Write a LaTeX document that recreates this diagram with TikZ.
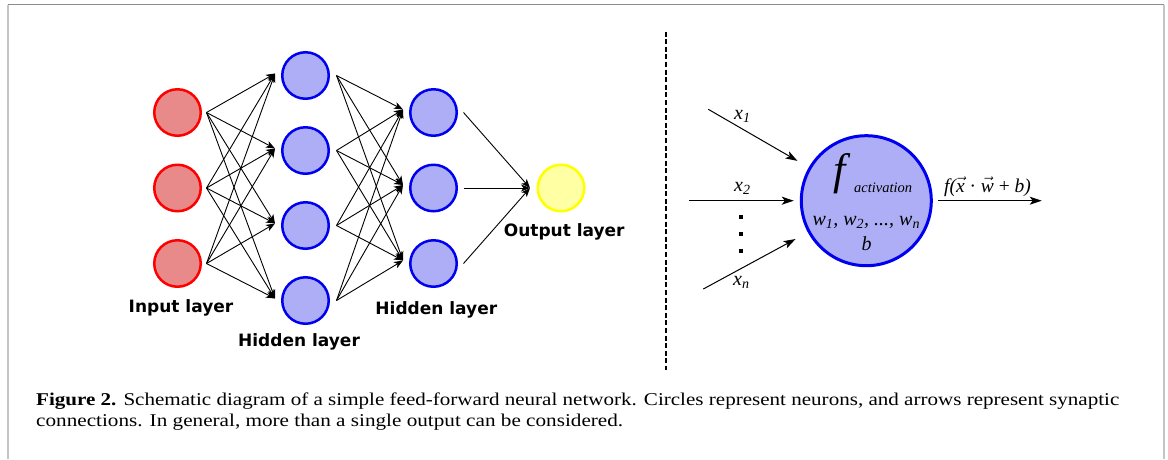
\documentclass[tikz,border=0pt]{standalone}
\usepackage{fontspec}
\usepackage{graphicx}
\usetikzlibrary{arrows.meta}
\setmainfont{Liberation Serif}
\newfontfamily\lblfont{DejaVu Sans}
\definecolor{infill}{RGB}{233,138,138}
\definecolor{indraw}{RGB}{255,0,0}
\definecolor{hidfill}{RGB}{174,174,246}
\definecolor{hiddraw}{RGB}{0,0,240}
\definecolor{outfill}{RGB}{255,255,163}
\definecolor{outdraw}{RGB}{255,255,0}
\definecolor{frametop}{RGB}{140,140,140}
\definecolor{frameside}{RGB}{196,196,196}
\tikzset{
  neuron/.style={circle, minimum size=46.5pt, inner sep=0pt, line width=2.5pt},
  inneuron/.style={neuron, draw=indraw, fill=infill},
  hidneuron/.style={neuron, draw=hiddraw, fill=hidfill},
  outneuron/.style={neuron, draw=outdraw, fill=outfill},
  arr/.style={-{Stealth[length=9pt,width=7pt,inset=2.5pt]}, line width=0.9pt},
  arrb/.style={-{Stealth[length=12pt,width=8pt,inset=3pt]}, line width=1pt},
  layerlbl/.style={anchor=base, inner sep=0pt, font=\lblfont\bfseries\fontsize{17}{17}\selectfont},
  txt/.style={inner sep=0pt}
}
\begin{document}
\begin{tikzpicture}[x=1pt,y=-1pt]
\useasboundingbox (0,0) rectangle (1168,459);
\fill[white] (0,0) rectangle (1168,459);
% frame
\draw[frameside, line width=1.4pt] (8,459) -- (8,4.5);
\draw[frameside, line width=1.4pt] (1164,4.5) -- (1164,459);
\draw[frametop, line width=1.4pt] (8,4.5) -- (1164,4.5);

% ---------------- neural network ----------------
\foreach \i/\y in {1/112.5,2/188,3/263.5}{
  \node[inneuron] (in\i) at (177.5,\y) {};
  \path (in\i.center) ++(29,0) coordinate (in\i o);
}
\foreach \i/\y in {1/75.5,2/150.5,3/225.5,4/300.5}{
  \node[hidneuron] (ha\i) at (305.5,\y) {};
  \path (ha\i.center) ++(-30.5,-2) coordinate (ha\i i);
  \path (ha\i.center) ++(31,0) coordinate (ha\i o);
}
\foreach \i/\y in {1/112.5,2/188,3/263.5}{
  \node[hidneuron] (hb\i) at (433.5,\y) {};
  \path (hb\i.center) ++(-30.5,-3) coordinate (hb\i i);
  \path (hb\i.center) ++(30,0) coordinate (hb\i o);
}
\node[outneuron] (outn) at (561,188) {};
\path (outn.center) ++(-31,0) coordinate (outni);

\foreach \a in {1,2,3}{
  \foreach \b in {1,2,3,4}{
    \draw[arr] (in\a o) -- (ha\b i);
  }
}
\foreach \a in {1,2,3,4}{
  \foreach \b in {1,2,3}{
    \draw[arr] (ha\a o) -- (hb\b i);
  }
}
\foreach \a in {1,2,3}{
  \draw[arr] (hb\a o) -- (outni);
}

\node[layerlbl] (lblin) at (181,312.5) {Input layer};
\node[layerlbl] (lblha) at (299,346.5) {Hidden layer};
\node[layerlbl] (lblhb) at (436.3,314) {Hidden layer};
\node[layerlbl] (lblout) at (564.2,236.5) {Output layer};

% dashed separator
\coordinate (sepTop) at (666,31.5);
\coordinate (sepBot) at (666,370);
\draw[line width=2pt, dash pattern=on 5pt off 2.6pt] (sepTop) -- (sepBot);

% ---------------- single neuron ----------------
\node[circle, minimum size=130pt, inner sep=0pt, line width=3pt, draw=hiddraw, fill=hidfill] (neuron) at (866.3,200.7) {};
\coordinate (x1s) at (708.3,109.3);
\coordinate (x2s) at (689.3,200.7);
\coordinate (xns) at (703.3,289);
\coordinate (outend) at (1041.7,200.7);
\draw[arrb, shorten >=13pt] (x1s) -- (neuron);
\draw[arrb, shorten >=6pt] (x2s) -- (neuron);
\draw[arrb, shorten >=14pt] (xns) -- (neuron);
\draw[arrb, shorten <=5.5pt] (neuron) -- (outend);

\node[txt, anchor=base west] (lx1) at (734,119.3) {\fontsize{20}{20}\selectfont\itshape x\textsubscript{1}};
\node[txt, anchor=base west] (lx2) at (734,191.7) {\fontsize{20}{20}\selectfont\itshape x\textsubscript{2}};
\node[txt, anchor=base west] (lxn) at (733,285.7) {\fontsize{20}{20}\selectfont\itshape x\textsubscript{n}};
\fill (738.7,215.3) rectangle ++(4,4);
\fill (738.7,232.3) rectangle ++(4,4);
\fill (738.7,249) rectangle ++(4,4);

\node[txt, anchor=base west] (fsym) at (833,184) {\fontsize{44}{44}\selectfont\itshape f};
\node[txt, anchor=base west] (fsub) at (854,192.7) {\fontsize{14.5}{14.5}\selectfont\itshape activation};
\node[txt, anchor=base] (wts) at (866.3,225) {\fontsize{20}{20}\selectfont\itshape w\textsubscript{1}, w\textsubscript{2}, ..., w\textsubscript{n}};
\node[txt, anchor=base] (bias) at (866.5,250.7) {\fontsize{20}{20}\selectfont\itshape b};
\node[txt, anchor=base] (flbl) at (987.5,192) {\fontsize{19.5}{19.5}\selectfont\itshape f($\vec{\hbox{\itshape x}}$ \textup{·} $\vec{\hbox{\itshape w}}$ \textup{+} b)};

% ---------------- caption ----------------
\node[txt, anchor=base west] (cap1) at (36,405) {\resizebox{1083pt}{\height}{\fontsize{18}{18}\selectfont\textbf{Figure 2.} Schematic diagram of a simple feed-forward neural network. Circles represent neurons, and arrows represent synaptic}};
\node[txt, anchor=base west] (cap2) at (36,426) {\resizebox{587pt}{\height}{\fontsize{18}{18}\selectfont connections. In general, more than a single output can be considered.}};
\end{tikzpicture}
\end{document}
